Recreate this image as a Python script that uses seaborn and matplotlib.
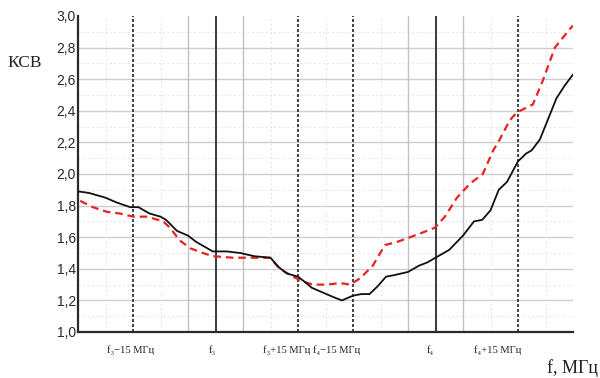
import matplotlib
matplotlib.use("Agg")
import matplotlib.pyplot as plt
import matplotlib.transforms as mtransforms
import numpy as np
import pandas as pd
import seaborn as sns

# Frequency axis, MHz (relative to the lower edge of the plotted band)
freq_solid = [0, 2, 5, 7, 9.5, 11, 13, 15, 16, 18, 20, 21.5, 23.5, 24.5, 27,
              29.5, 32, 35, 36.5, 38, 40, 41.5, 42.5, 44.5, 46.5, 48, 50, 51.5,
              53, 54.5, 56, 57.5, 60, 62, 63.5, 65, 67.5, 70, 72, 73.5, 75,
              76.5, 78, 80, 81.5, 82.5, 84, 87, 88.5, 90]
vswr_solid = [1.89, 1.88, 1.85, 1.82, 1.79, 1.79, 1.75, 1.73, 1.71, 1.64, 1.61,
              1.57, 1.53, 1.51, 1.51, 1.50, 1.48, 1.47, 1.41, 1.37, 1.35, 1.31,
              1.28, 1.25, 1.22, 1.20, 1.23, 1.24, 1.24, 1.29, 1.35, 1.36, 1.38,
              1.42, 1.44, 1.47, 1.52, 1.61, 1.70, 1.71, 1.77, 1.90, 1.95, 2.08,
              2.13, 2.15, 2.22, 2.48, 2.56, 2.63]

freq_dashed = [0.4, 2.7, 5.3, 7.6, 10, 12.5, 15.5, 16.7, 18.5, 20.4, 22.7, 24.5,
               28.2, 31.3, 34.9, 36.7, 39.1, 40.9, 42.7, 45.3, 47.6, 49.5, 51.3,
               53.6, 55.8, 58, 60.4, 62.7, 64.9, 66.7, 68.9, 71.3, 73.6, 75.5,
               76.7, 78.5, 79.8, 82.7, 84.5, 86.7, 89.5, 90]
vswr_dashed = [1.83, 1.79, 1.76, 1.75, 1.73, 1.73, 1.70, 1.66, 1.58, 1.53, 1.50,
               1.48, 1.47, 1.47, 1.47, 1.40, 1.35, 1.32, 1.30, 1.30, 1.31, 1.30,
               1.34, 1.42, 1.55, 1.57, 1.60, 1.63, 1.66, 1.73, 1.85, 1.94, 2.00,
               2.15, 2.22, 2.34, 2.39, 2.44, 2.59, 2.80, 2.92, 2.94]

# Channel markers on the frequency axis
marker_pos = [10, 25, 40, 50, 65, 80]
marker_labels = ["f\u2083\u221215 МГц", "f\u2083", "f\u2083+15 МГц",
                 "f\u2084\u221215 МГц", "f\u2084", "f\u2084+15 МГц"]
# horizontal nudge of each marker label, pixels
label_shift = [-2, -3, -11, -16, -5, -20]
y_ticks = [1.0, 1.2, 1.4, 1.6, 1.8, 2.0, 2.2, 2.4, 2.6, 2.8, 3.0]

sns.set_style("white")
plt.rcParams["font.family"] = ["Liberation Sans", "DejaVu Sans"]

fig = plt.figure(figsize=(6, 3.78), dpi=100)
ax = fig.add_axes([0.13, 0.1217, 0.825, 0.836])

# grid: major horizontal lines, faint dotted half-steps
for y in y_ticks[1:-1]:
    ax.axhline(y, color="#d3cccc", lw=1.0, zorder=0)
for y in np.arange(1.1, 3.0, 0.2):
    ax.axhline(y, color="#ebe8e8", lw=0.8, ls=(0, (2, 2)), zorder=0)
for x in [20, 30, 60, 70]:
    ax.axvline(x, color="#c2c2c2", lw=1.0, zorder=0)
for x in [5, 15, 35, 45, 55, 75, 85]:
    ax.axvline(x, color="#e8e8e8", lw=0.8, ls=(0, (2, 2)), zorder=0)
for x in [25, 65]:
    ax.axvline(x, color="#3a3a3a", lw=1.4, zorder=1)
for x in [10, 40, 50, 80]:
    ax.axvline(x, color="#222222", lw=1.2, ls=(0, (1.8, 1.2)), zorder=1)

df_solid = pd.DataFrame({"f": freq_solid, "ksv": vswr_solid})
df_dashed = pd.DataFrame({"f": freq_dashed, "ksv": vswr_dashed})
sns.lineplot(data=df_dashed, x="f", y="ksv", ax=ax, color="#e8231f", lw=1.6,
             zorder=3, estimator=None, sort=False).lines[-1].set_dashes((3.4, 2.2))
sns.lineplot(data=df_solid, x="f", y="ksv", ax=ax, color="#111111", lw=1.3,
             zorder=4, estimator=None, sort=False)

ax.set_xlim(0, 90)
ax.set_ylim(1.0, 3.0)
ax.set_yticks(y_ticks)
ax.set_yticklabels([f"{v:.1f}".replace(".", ",") for v in y_ticks],
                   fontsize=10, color="#2a2a2a")
ax.set_xticks(marker_pos)
ax.set_xticklabels([])
ax.tick_params(axis="both", length=0)
ax.tick_params(axis="y", pad=1.5)
ax.set_xlabel("")
ax.set_ylabel("")

# marker labels under the frequency axis
xform = ax.get_xaxis_transform()
for x, text, dx in zip(marker_pos, marker_labels, label_shift):
    t = xform + mtransforms.ScaledTranslation(dx / 100, -0.18, fig.dpi_scale_trans)
    ax.text(x, 0, text, transform=t, ha="center", va="center", fontsize=7.6,
            color="#222222", family=["Liberation Serif", "DejaVu Serif"])

for side in ["top", "right"]:
    ax.spines[side].set_visible(False)
for side in ["left", "bottom"]:
    ax.spines[side].set_color("#2a2a2a")
    ax.spines[side].set_linewidth(1.6)

fig.text(0.013, 0.833, "КСВ", fontsize=12.5, color="#222222",
         family=["Liberation Serif", "DejaVu Serif"], va="center", ha="left")
fig.text(0.997, 0.027, "f, МГц", fontsize=13, color="#222222",
         family=["Liberation Serif", "DejaVu Serif"], va="center", ha="right")

fig.savefig("out.png", dpi=100, facecolor="white")
